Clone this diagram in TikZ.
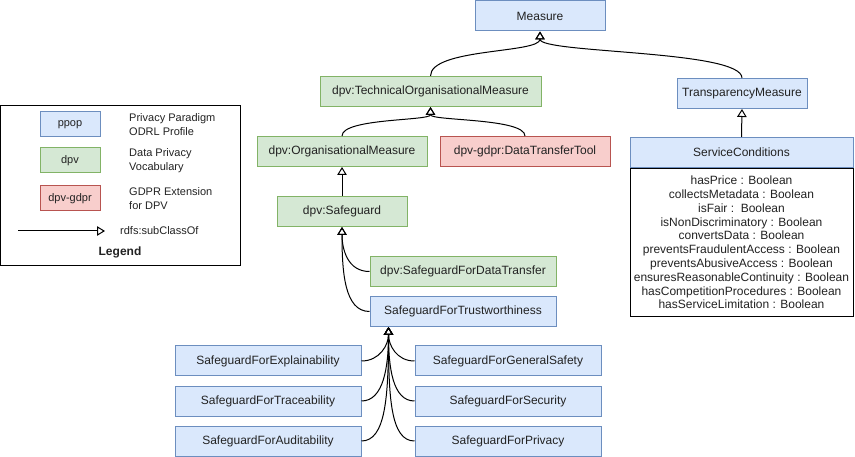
\documentclass[tikz,border=0pt]{standalone}
\usepackage{fontspec}
\setmainfont{Liberation Sans}
\usetikzlibrary{arrows.meta,calc}
\definecolor{bfill}{HTML}{DAE8FC}\definecolor{bdraw}{HTML}{6C8EBF}
\definecolor{gfill}{HTML}{D5E8D4}\definecolor{gdraw}{HTML}{82B366}
\definecolor{rfill}{HTML}{F8CECC}\definecolor{rdraw}{HTML}{B85450}
\definecolor{txt}{HTML}{222222}
\tikzset{
  box/.style={rectangle,inner sep=0pt,line width=1pt,text=txt,font=\fontsize{12}{14}\selectfont,minimum height=30pt},
  bbox/.style={box,fill=bfill,draw=bdraw},
  gbox/.style={box,fill=gfill,draw=gdraw},
  rbox/.style={box,fill=rfill,draw=rdraw},
  sub/.style={line width=1pt,-{Triangle[open,length=8pt,width=9.5pt]}},
  ltext/.style={anchor=west,align=left,inner sep=0pt,text=txt,font=\fontsize{11}{14}\selectfont},
}
\begin{document}
\begin{tikzpicture}[x=1pt,y=-1pt]
\useasboundingbox (0,0) rectangle (855,457);
% main nodes
\node[bbox,minimum width=130pt] (measure) at (540,16) {Measure};
\node[gbox,minimum width=221pt] (tom) at (430.5,91.5) {dpv:TechnicalOrganisationalMeasure};
\node[bbox,minimum width=130pt] (tm) at (742,93.5) {TransparencyMeasure};
\node[gbox,minimum width=170pt] (org) at (342,151.5) {dpv:OrganisationalMeasure};
\node[rbox,minimum width=170pt] (dtt) at (525,151.5) {dpv-gdpr:DataTransferTool};
\node[gbox,minimum width=130pt] (sg) at (342,211.5) {dpv:Safeguard};
\node[gbox,minimum width=186pt] (sfdt) at (463,271.5) {dpv:SafeguardForDataTransfer};
\node[bbox,minimum width=186pt] (sft) at (463,311.5) {SafeguardForTrustworthiness};
\node[bbox,minimum width=186pt] (expl) at (268,361) {SafeguardForExplainability};
\node[bbox,minimum width=186pt] (trace) at (268,401) {SafeguardForTraceability};
\node[bbox,minimum width=186pt] (audit) at (268,441) {SafeguardForAuditability};
\node[bbox,minimum width=186pt] (gen) at (508,361) {SafeguardForGeneralSafety};
\node[bbox,minimum width=186pt] (sec) at (508,401) {SafeguardForSecurity};
\node[bbox,minimum width=186pt] (priv) at (508,441) {SafeguardForPrivacy};
% service conditions
\node[bbox,minimum width=223pt] (sc) at (741.5,152.5) {ServiceConditions};
\node[rectangle,draw=black,line width=1pt,fill=white,anchor=north,minimum width=223pt,minimum height=148pt,inner sep=0pt,align=center,text=txt,font=\fontsize{12}{13.8}\selectfont] (scbody) at (sc.south) {hasPrice : Boolean\\collectsMetadata : Boolean\\isFair :~~Boolean\\isNonDiscriminatory : Boolean\\convertsData : Boolean\\preventsFraudulentAccess : Boolean\\preventsAbusiveAccess : Boolean\\ensuresReasonableContinuity : Boolean\\hasCompetitionProcedures : Boolean\\hasServiceLimitation : Boolean};
% connectors
\coordinate (sfttip) at ($(sft.south west)+(19,0)$);
\draw[sub] (tom.north) .. controls +(0,-28) and +(0,22) .. (measure.south);
\draw[sub] (tm.north) .. controls +(0,-28) and +(0,22) .. (measure.south);
\draw[sub] (sc.north) -- (tm.south);
\draw[sub] (org.north) .. controls +(0,-18) and +(0,14) .. (tom.south);
\draw[sub] (dtt.north) .. controls +(0,-18) and +(0,14) .. (tom.south);
\draw[sub] (sg.north) -- (org.south);
\draw[sub] (sfdt.west) .. controls +(-22,0) and +(0,22) .. (sg.south);
\draw[sub] (sft.west) .. controls +(-25,0) and +(0,45) .. (sg.south);
\draw[sub] (expl.east) .. controls +(18,0) and +(0,18) .. (sfttip);
\draw[sub] (trace.east) .. controls +(22,0) and +(0,40) .. (sfttip);
\draw[sub] (audit.east) .. controls +(24,0) and +(0,70) .. (sfttip);
\draw[sub] (gen.west) .. controls +(-18,0) and +(0,18) .. (sfttip);
\draw[sub] (sec.west) .. controls +(-22,0) and +(0,40) .. (sfttip);
\draw[sub] (priv.west) .. controls +(-24,0) and +(0,70) .. (sfttip);
% legend
\node[rectangle,draw=black,line width=1pt,minimum width=240pt,minimum height=160pt,inner sep=0pt] (legend) at (120.75,185.5) {};
\node[bbox,minimum width=60pt,minimum height=25pt,font=\fontsize{11}{13}\selectfont] (lppop) at (70,124.5) {ppop};
\node[gbox,minimum width=60pt,minimum height=25pt,font=\fontsize{11}{13}\selectfont] (ldpv) at (70,160.5) {dpv};
\node[rbox,minimum width=60pt,minimum height=25pt,font=\fontsize{11}{13}\selectfont] (lgdpr) at (70,198.5) {dpv-gdpr};
\node[ltext] (tppop) at (129,125) {Privacy Paradigm\\ODRL Profile};
\node[ltext] (tdpv) at (129,160.5) {Data Privacy\\Vocabulary};
\node[ltext] (tgdpr) at (129,198.5) {GDPR Extension\\for DPV};
\coordinate (la) at (18,231);
\coordinate (lb) at (105,231);
\draw[sub] (la) -- (lb);
\node[ltext] (tsub) at (120,231) {rdfs:subClassOf};
\node[text=txt,inner sep=0pt,font=\fontsize{12}{14}\selectfont\bfseries] (lt) at (120,252) {Legend};
\end{tikzpicture}
\end{document}
